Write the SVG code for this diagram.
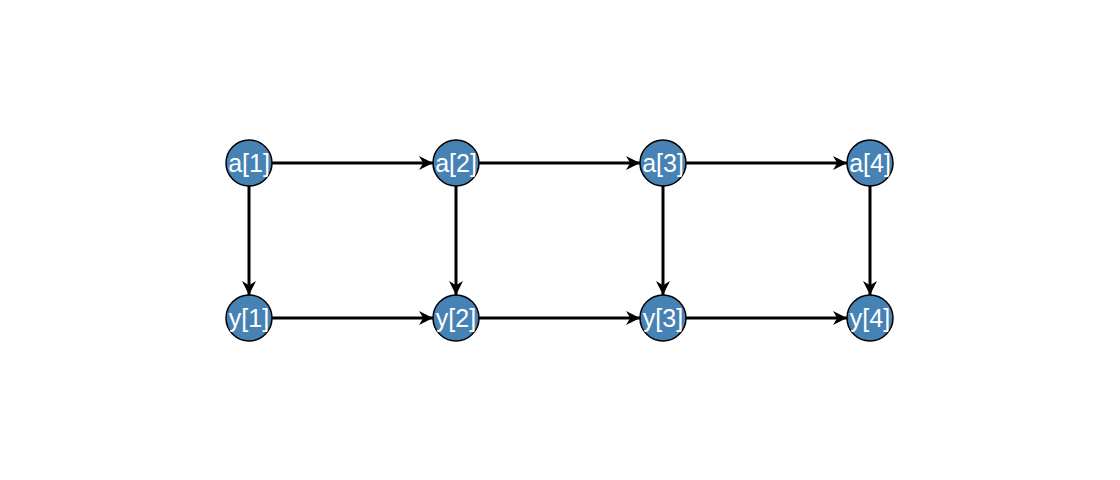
<svg xmlns="http://www.w3.org/2000/svg" width="1120" height="480" viewBox="0 0 1120 480">
<style>
.n{fill:#4682b4;stroke:#000;stroke-width:1.5}
.t{fill:#fff;font-family:"Liberation Sans",Arial,sans-serif;font-size:25px;text-anchor:middle}
.e{stroke:#000;stroke-width:3;fill:none;marker-end:url(#ah)}
</style>
<defs>
<marker id="ah" markerWidth="8" markerHeight="8" refX="7" refY="4" orient="auto" markerUnits="userSpaceOnUse" viewBox="0 0 8 8">
<path d="M0,0 L8,4 L0,8 L2,4 Z" fill="#000"/>
</marker>
<marker id="ah2" viewBox="0 0 10 10" refX="10" refY="5" markerWidth="14" markerHeight="14" orient="auto" markerUnits="userSpaceOnUse"><path d="M0,0 L10,5 L0,10 L3,5 Z" fill="#000"/></marker>
<clipPath id="c1a"><circle cx="249" cy="163" r="23"/></clipPath>
<clipPath id="c2a"><circle cx="456" cy="163" r="23"/></clipPath>
<clipPath id="c3a"><circle cx="663" cy="163" r="23"/></clipPath>
<clipPath id="c4a"><circle cx="870" cy="163" r="23"/></clipPath>
<clipPath id="c1y"><circle cx="249" cy="318" r="23"/></clipPath>
<clipPath id="c2y"><circle cx="456" cy="318" r="23"/></clipPath>
<clipPath id="c3y"><circle cx="663" cy="318" r="23"/></clipPath>
<clipPath id="c4y"><circle cx="870" cy="318" r="23"/></clipPath>
</defs>
<rect width="1120" height="480" fill="#fff"/>
<g id="edges" style="--m:url(#ah2)">
<line class="e" style="marker-end:url(#ah2)" x1="272" y1="163" x2="433" y2="163"/>
<line class="e" style="marker-end:url(#ah2)" x1="479" y1="163" x2="640" y2="163"/>
<line class="e" style="marker-end:url(#ah2)" x1="686" y1="163" x2="847" y2="163"/>
<line class="e" style="marker-end:url(#ah2)" x1="272" y1="318" x2="433" y2="318"/>
<line class="e" style="marker-end:url(#ah2)" x1="479" y1="318" x2="640" y2="318"/>
<line class="e" style="marker-end:url(#ah2)" x1="686" y1="318" x2="847" y2="318"/>
<line class="e" style="marker-end:url(#ah2)" x1="249" y1="186" x2="249" y2="295"/>
<line class="e" style="marker-end:url(#ah2)" x1="456" y1="186" x2="456" y2="295"/>
<line class="e" style="marker-end:url(#ah2)" x1="663" y1="186" x2="663" y2="295"/>
<line class="e" style="marker-end:url(#ah2)" x1="870" y1="186" x2="870" y2="295"/>
</g>
<g id="a1"><circle class="n" cx="249" cy="163" r="23"/><text class="t" x="249" y="172" clip-path="url(#c1a)">a[1]</text></g>
<g id="a2"><circle class="n" cx="456" cy="163" r="23"/><text class="t" x="456" y="172" clip-path="url(#c2a)">a[2]</text></g>
<g id="a3"><circle class="n" cx="663" cy="163" r="23"/><text class="t" x="663" y="172" clip-path="url(#c3a)">a[3]</text></g>
<g id="a4"><circle class="n" cx="870" cy="163" r="23"/><text class="t" x="870" y="172" clip-path="url(#c4a)">a[4]</text></g>
<g id="y1"><circle class="n" cx="249" cy="318" r="23"/><text class="t" x="249" y="327" clip-path="url(#c1y)">y[1]</text></g>
<g id="y2"><circle class="n" cx="456" cy="318" r="23"/><text class="t" x="456" y="327" clip-path="url(#c2y)">y[2]</text></g>
<g id="y3"><circle class="n" cx="663" cy="318" r="23"/><text class="t" x="663" y="327" clip-path="url(#c3y)">y[3]</text></g>
<g id="y4"><circle class="n" cx="870" cy="318" r="23"/><text class="t" x="870" y="327" clip-path="url(#c4y)">y[4]</text></g>
</svg>
